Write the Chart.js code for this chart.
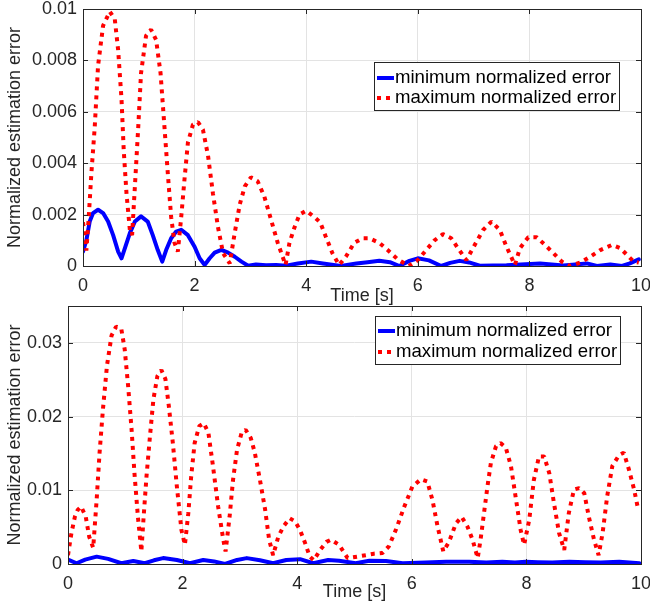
<!DOCTYPE html>
<html><head><meta charset="utf-8">
<script src="https://cdn.jsdelivr.net/npm/chart.js@4"></script>
<style>
html,body{margin:0;padding:0;background:#fff;width:650px;height:605px;overflow:hidden}
.box{position:absolute;left:0;width:650px;height:305px}
#b1{top:0;z-index:2}
#b2{top:300px;z-index:1}
</style></head><body>
<div class="box" id="b2"><canvas id="c2"></canvas></div>
<div class="box" id="b1"><canvas id="c1"></canvas></div>
<script>
// ---------- data ----------
const seriesLabels = ['minimum normalized error', 'maximum normalized error'];
const xTitle = 'Time [s]';
const yTitle = 'Normalized estimation error';
const xTicks = [0, 2, 4, 6, 8, 10];
const xTickLabels = ['0', '2', '4', '6', '8', '10'];
const topYTicks = [0, 0.002, 0.004, 0.006, 0.008, 0.01];
const topYTickLabels = ['0', '0.002', '0.004', '0.006', '0.008', '0.01'];
const botYTicks = [0, 0.01, 0.02, 0.03];
const botYTickLabels = ['0', '0.01', '0.02', '0.03'];

// top plot, minimum normalized error
const topMinT = [0,0.06,0.12,0.18,0.27,0.36,0.45,0.54,0.63,0.69,0.76,0.84,0.93,1.04,1.16,1.25,1.34,1.42,1.49,1.58,1.67,1.76,1.88,2.00,2.09,2.18,2.27,2.36,2.48,2.60,2.72,2.84,2.96,3.10,3.28,3.46,3.64,3.85,4.09,4.30,4.62,4.90,5.10,5.31,5.50,5.67,5.85,6.00,6.20,6.42,6.58,6.75,6.92,7.11,7.59,8.19,8.61,9.03,9.21,9.45,9.66,9.80,9.96];
const topMinV = [0.00056,0.0010,0.00173,0.00206,0.00219,0.00206,0.00173,0.0012,0.00056,0.0003,0.00075,0.00128,0.00173,0.00193,0.00173,0.0012,0.00062,0.00017,0.00062,0.00108,0.00134,0.00141,0.0012,0.00075,0.0003,0.00004,0.0003,0.00052,0.00063,0.00052,0.00036,0.00017,0.00001,0.00006,0.00003,0.00004,0.00001,0.0001,0.00017,0.0001,0.0,0.0001,0.00015,0.0002,0.00015,0.0,0.0002,0.0003,0.00022,0.0,0.00012,0.0002,0.00014,0.00001,0.00003,0.0001,0.00002,0.0001,0.0,0.00006,0.0,0.0001,0.00026];
// top plot, maximum normalized error
const topMaxT = [0,0.03,0.06,0.10,0.15,0.21,0.27,0.36,0.48,0.57,0.63,0.69,0.73,0.78,0.84,0.88,0.93,0.99,1.04,1.13,1.22,1.31,1.39,1.46,1.52,1.58,1.64,1.70,1.76,1.82,1.88,1.97,2.06,2.15,2.24,2.33,2.42,2.51,2.63,2.72,2.81,2.90,3.01,3.13,3.25,3.37,3.49,3.63,3.70,3.79,3.88,4.00,4.15,4.25,4.35,4.47,4.59,4.71,4.86,5.01,5.13,5.31,5.46,5.64,5.84,6.00,6.15,6.30,6.45,6.60,6.72,6.87,7.02,7.17,7.32,7.47,7.59,7.74,7.83,7.98,8.13,8.28,8.43,8.58,8.73,8.91,9.09,9.27,9.48,9.63,9.75,9.87,9.96];
const topMaxV = [0.0017,0.0012,0.0006,0.0018,0.0036,0.0054,0.0078,0.00935,0.0099,0.0096,0.0084,0.0065,0.0045,0.0028,0.0014,0.0012,0.0031,0.0054,0.0075,0.00896,0.0092,0.0088,0.0075,0.0054,0.0036,0.0019,0.0009,0.00056,0.0019,0.0034,0.0048,0.0055,0.0056,0.0053,0.0043,0.0028,0.0015,0.0005,0.0001,0.0013,0.0024,0.0031,0.00345,0.0033,0.0027,0.0018,0.0009,0.00004,0.0009,0.0015,0.0020,0.00215,0.0019,0.0017,0.00115,0.0005,0.00004,0.00036,0.0009,0.00108,0.00108,0.0009,0.00062,0.00026,0.0,0.00023,0.00062,0.0010,0.00124,0.00108,0.00069,0.00023,0.00082,0.0014,0.00173,0.0014,0.00075,0.00004,0.00069,0.00112,0.00112,0.00082,0.0005,0.00017,0.0,0.00013,0.00036,0.00062,0.00082,0.00069,0.00043,0.00017,0.00013];

// bottom plot, minimum normalized error
const botMinT = [0,0.15,0.30,0.50,0.70,0.93,1.14,1.34,1.50,1.66,1.90,2.13,2.36,2.55,2.74,2.95,3.12,3.35,3.58,3.81,4.05,4.28,4.54,4.73,5.02,5.26,5.55,5.84,6.24,6.60,7.00,7.30,7.58,7.80,7.99,8.20,8.45,8.75,9.03,9.30,9.62,9.97];
const botMinV = [0.0006,0.0001,0.0006,0.0010,0.0007,0.0001,0.0004,0.0001,0.0005,0.0008,0.00055,0.0001,0.00055,0.00035,0.0,0.00055,0.0008,0.0005,0.0001,0.00055,0.00065,0.0001,0.00055,0.00045,0.0001,0.00045,0.0004,0.0001,0.0002,0.0003,0.0003,0.0002,0.0003,0.0002,0.0003,0.00025,0.0002,0.0003,0.00025,0.0002,0.0003,0.0001];
// bottom plot, maximum normalized error
const botMaxT = [0,0.06,0.12,0.17,0.23,0.31,0.37,0.44,0.50,0.55,0.61,0.68,0.76,0.84,0.93,0.99,1.05,1.11,1.16,1.22,1.28,1.32,1.37,1.43,1.49,1.56,1.63,1.70,1.76,1.83,1.90,1.98,2.04,2.10,2.15,2.21,2.29,2.37,2.45,2.53,2.62,2.71,2.75,2.82,2.88,2.95,3.03,3.10,3.19,3.26,3.35,3.44,3.51,3.58,3.67,3.76,3.87,3.96,4.05,4.14,4.22,4.29,4.40,4.51,4.59,4.73,4.88,5.05,5.20,5.34,5.49,5.60,5.72,5.87,6.01,6.16,6.27,6.36,6.45,6.55,6.65,6.77,6.87,6.97,7.06,7.15,7.20,7.26,7.32,7.38,7.47,7.55,7.64,7.73,7.81,7.90,7.96,8.05,8.13,8.22,8.31,8.40,8.48,8.57,8.66,8.74,8.83,8.92,9.01,9.09,9.18,9.26,9.33,9.41,9.50,9.62,9.70,9.79,9.88,9.94,9.99];
const botMaxV = [0.0012,0.0042,0.0064,0.00735,0.0078,0.0064,0.0037,0.0022,0.0087,0.015,0.021,0.0269,0.031,0.0322,0.0319,0.0291,0.0241,0.0182,0.0123,0.0064,0.0017,0.0064,0.0119,0.0173,0.0223,0.0255,0.0263,0.0251,0.0214,0.0164,0.0105,0.0046,0.0026,0.0069,0.0119,0.0164,0.0187,0.0191,0.0178,0.0133,0.0078,0.0033,0.0017,0.0064,0.0114,0.0155,0.0178,0.0182,0.0171,0.0151,0.0114,0.0074,0.0033,0.0012,0.0037,0.0051,0.0062,0.0058,0.0046,0.0028,0.0010,0.0005,0.0019,0.0030,0.0033,0.0026,0.0008,0.0010,0.0012,0.0014,0.0015,0.0024,0.0046,0.0078,0.0105,0.0115,0.0112,0.0087,0.0051,0.0017,0.0030,0.0055,0.0064,0.0051,0.0033,0.0008,0.0033,0.0069,0.0105,0.0137,0.0160,0.0164,0.0158,0.0133,0.0092,0.0046,0.0026,0.0060,0.0114,0.0146,0.0146,0.0123,0.0083,0.0042,0.0019,0.0069,0.0101,0.0103,0.0096,0.0064,0.0033,0.0012,0.0042,0.0092,0.0133,0.0148,0.0151,0.0128,0.0101,0.0078,0.0074];

// ---------- chart ----------
const FONT = 'Liberation Sans, Arial, Helvetica, sans-serif';
const TXT = '#262626';
const GRID = '#e3e3e3';
Chart.defaults.font.family = FONT;
Chart.defaults.font.size = 18;
Chart.defaults.color = TXT;

function pts(T, V) { return T.map((t, i) => ({x: t, y: V[i]})); }

const frame = {
  id: 'frame',
  afterDraw(chart, args, o) {
    const {ctx, chartArea: a, scales} = chart;
    ctx.save();
    ctx.strokeStyle = TXT; ctx.lineWidth = 1;
    const L = 5;
    ctx.beginPath();
    scales.x.ticks.forEach(t => {
      const p = Math.round(scales.x.getPixelForValue(t.value)) + 0.5;
      ctx.moveTo(p, a.bottom); ctx.lineTo(p, a.bottom - L);
      ctx.moveTo(p, a.top); ctx.lineTo(p, a.top + L);
    });
    scales.y.ticks.forEach(t => {
      const p = Math.round(scales.y.getPixelForValue(t.value)) + 0.5;
      ctx.moveTo(a.left, p); ctx.lineTo(a.left + L, p);
      ctx.moveTo(a.right, p); ctx.lineTo(a.right - L, p);
    });
    ctx.stroke();
    ctx.strokeRect(Math.round(a.left) + 0.5, Math.round(a.top) + 0.5, Math.round(a.right - a.left), Math.round(a.bottom - a.top));
    // legend box
    const lg = o.legend;
    ctx.fillStyle = '#fff';
    ctx.fillRect(lg.x, lg.y, lg.w, lg.h);
    ctx.strokeStyle = TXT;
    ctx.strokeRect(lg.x + 0.5, lg.y + 0.5, lg.w, lg.h);
    chart.data.datasets.forEach((ds, i) => {
      const yy = lg.y + lg.rows[i];
      ctx.save();
      ctx.strokeStyle = ds.borderColor;
      ctx.lineWidth = ds.borderWidth;
      ctx.setLineDash(ds.borderDash || []);
      ctx.lineCap = 'butt';
      ctx.beginPath();
      ctx.moveTo(lg.x + 3, yy); ctx.lineTo(lg.x + 20, yy);
      ctx.stroke();
      ctx.restore();
      ctx.fillStyle = '#000';
      ctx.font = '18.6px ' + FONT;
      ctx.textBaseline = 'middle';
      ctx.textAlign = 'left';
      ctx.fillText(ds.label, lg.x + 21, yy);
    });
    ctx.restore();
  }
};

function makeChart(id, cfg) {
  return new Chart(document.getElementById(id), {
    type: 'line',
    data: {
      datasets: [
        {label: seriesLabels[0], data: pts(cfg.minT, cfg.minV), borderColor: '#0000ff', borderWidth: 4, borderJoinStyle: 'round', borderCapStyle: 'round', pointRadius: 0, tension: 0, order: 2, fill: false},
        {label: seriesLabels[1], data: pts(cfg.maxT, cfg.maxV), borderColor: '#ff0000', borderWidth: 4, borderDash: [4, 5], borderCapStyle: 'butt', borderJoinStyle: 'bevel', pointRadius: 0, tension: 0, order: 1, fill: false}
      ]
    },
    options: {
      responsive: true, maintainAspectRatio: false, animation: false,
      devicePixelRatio: 1,
      layout: {padding: {left: 0, right: 9, top: cfg.padTop, bottom: 0}},
      plugins: {legend: {display: false}, tooltip: {enabled: false}, frame: {legend: cfg.legend}},
      scales: {
        x: {
          type: 'linear', min: 0, max: 10,
          afterBuildTicks: s => { s.ticks = xTicks.map(v => ({value: v})); },
          ticks: {padding: 9, maxRotation: 0, autoSkip: false, color: TXT,
                  callback: v => xTickLabels[xTicks.indexOf(v)]},
          grid: {color: GRID, drawTicks: false},
          border: {display: false},
          title: {display: true, text: xTitle, color: TXT, font: {size: 18, lineHeight: 1}, padding: {top: 0, bottom: cfg.xTitlePad}},
          afterFit: s => { s.height = cfg.xH; s.paddingLeft = 0; s.paddingRight = 0; }
        },
        y: {
          type: 'linear', min: 0, max: cfg.yMax,
          afterBuildTicks: s => { s.ticks = cfg.yTicks.map(v => ({value: v})); },
          ticks: {padding: 6, autoSkip: false, color: TXT,
                  callback: v => cfg.yLabels[cfg.yTicks.indexOf(v)]},
          grid: {color: GRID, drawTicks: false},
          border: {display: false},
          title: {display: true, text: yTitle, color: TXT, font: {size: 18, lineHeight: 1}, padding: {top: 6, bottom: 0}},
          afterFit: s => { s.width = cfg.yW; s.paddingTop = 0; s.paddingBottom = 0; }
        }
      }
    },
    plugins: [frame]
  });
}

makeChart('c1', {minT: topMinT, minV: topMinV, maxT: topMaxT, maxV: topMaxV,
  yMax: 0.01, yTicks: topYTicks, yLabels: topYTickLabels, yW: 83, xH: 39, padTop: 9, xTitlePad: 0,
  legend: {x: 374, y: 62, w: 245, h: 48, rows: [16, 36]}});
makeChart('c2', {minT: botMinT, minV: botMinV, maxT: botMaxT, maxV: botMaxV,
  yMax: 0.035, yTicks: botYTicks, yLabels: botYTickLabels, yW: 68, xH: 41, padTop: 6, xTitlePad: 4,
  legend: {x: 375, y: 16, w: 245, h: 48, rows: [15, 36]}});
</script>
</body></html>
